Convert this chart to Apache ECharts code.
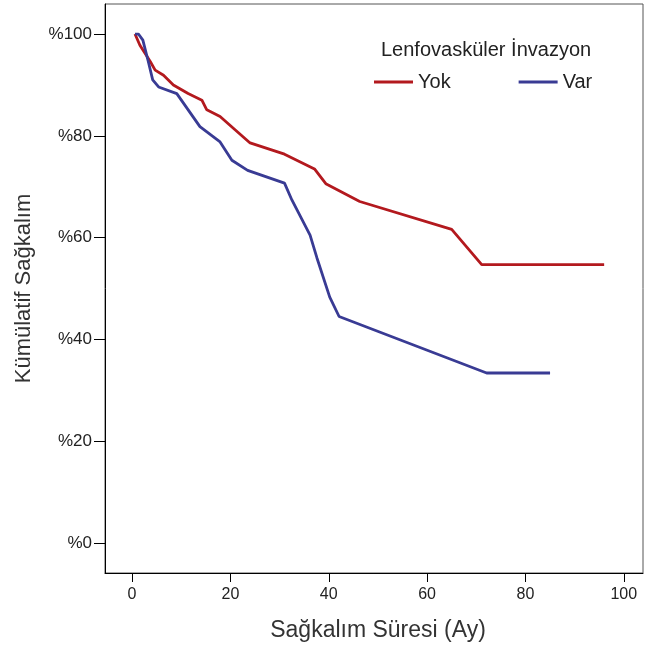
<!DOCTYPE html>
<html>
<head>
<meta charset="utf-8">
<script src="https://cdn.jsdelivr.net/npm/echarts@6/dist/echarts.min.js"></script>
<style>
  html, body { margin: 0; padding: 0; background: #fff; }
  #chart { width: 645px; height: 653px; }
</style>
</head>
<body>
<div id="chart"></div>
<script>
// Kaplan-Meier survival estimates by lymphovascular invasion status
const yokMonths   = [0.6, 1.6, 3.7, 4.7, 6.4, 8.4, 11.4, 14.2, 15.2, 17.9, 20.6, 24.0, 31.0, 37.1, 39.4, 46.3, 65.0, 71.1, 96.0];
const yokSurvival = [100, 97.8, 94.6, 92.9, 91.9, 90.0, 88.3, 87.0, 85.1, 83.8, 81.5, 78.6, 76.4, 73.5, 70.6, 67.1, 61.6, 54.7, 54.7];

const varMonths   = [0.6, 1.3, 2.2, 3.3, 4.2, 5.4, 9.1, 13.8, 17.9, 20.3, 23.5, 31.0, 32.5, 36.2, 37.6, 40.2, 42.1, 72.1, 85.0];
const varSurvival = [100, 100, 98.8, 94.6, 91.0, 89.6, 88.3, 81.8, 78.8, 75.2, 73.2, 70.7, 67.4, 60.5, 56.0, 48.3, 44.5, 33.4, 33.4];

const xTicks = [0, 20, 40, 60, 80, 100];
const yTicks = [0, 20, 40, 60, 80, 100];

const groupNames = ['Yok', 'Var'];
const legendTitle = 'Lenfovasküler İnvazyon';

const pairs = (xs, ys) => xs.map((x, i) => [x, ys[i]]);

const FONT = '"Liberation Sans", Arial, sans-serif';
const RED = '#b3191e';
const BLUE = '#393b94';

const chart = echarts.init(document.getElementById('chart'));
chart.setOption({
  animation: false,
  backgroundColor: '#fff',
  grid: {
    left: 105, right: 2, top: 4, bottom: 80,
    show: true, borderColor: '#555', borderWidth: 1, backgroundColor: 'transparent'
  },
  title: {
    text: legendTitle,
    left: 381, top: 40, padding: 0,
    textStyle: { fontFamily: FONT, fontSize: 20, fontWeight: 'normal', color: '#222' }
  },
  legend: {
    data: groupNames,
    left: 374, top: 72, padding: 0,
    icon: 'rect',
    itemWidth: 39, itemHeight: 3,
    itemGap: 68,
    textStyle: { fontFamily: FONT, fontSize: 20, color: '#222' }
  },
  xAxis: {
    type: 'value',
    min: -5.5, max: 103.9,
    name: 'Sağkalım Süresi (Ay)',
    nameLocation: 'middle',
    nameGap: 46,
    nameTextStyle: { fontFamily: FONT, fontSize: 23, color: '#333', padding: [0, 0, 0, 8] },
    axisLine: { show: true, onZero: false, lineStyle: { color: '#000', width: 1 } },
    axisTick: { show: true, length: 9, customValues: xTicks, lineStyle: { color: '#000' } },
    axisLabel: { customValues: xTicks, margin: 14, fontFamily: FONT, fontSize: 16, color: '#222' },
    splitLine: { show: false }
  },
  yAxis: {
    type: 'value',
    min: -5.9, max: 105.9,
    name: 'Kümülatif Sağkalım',
    nameLocation: 'middle',
    nameGap: 70,
    nameTextStyle: { fontFamily: FONT, fontSize: 22, color: '#333' },
    axisLine: { show: true, onZero: false, lineStyle: { color: '#000', width: 1 } },
    axisTick: { show: true, length: 11, customValues: yTicks, lineStyle: { color: '#000' } },
    axisLabel: {
      customValues: yTicks, margin: 13, fontFamily: FONT, fontSize: 17, color: '#222',
      formatter: v => '%' + v
    },
    splitLine: { show: false }
  },
  series: [
    {
      name: groupNames[0], type: 'line', data: pairs(yokMonths, yokSurvival),
      showSymbol: false, symbol: 'none',
      lineStyle: { color: RED, width: 2.8 }, itemStyle: { color: RED }
    },
    {
      name: groupNames[1], type: 'line', data: pairs(varMonths, varSurvival),
      showSymbol: false, symbol: 'none',
      lineStyle: { color: BLUE, width: 2.8 }, itemStyle: { color: BLUE }
    }
  ]
});
</script>
</body>
</html>
